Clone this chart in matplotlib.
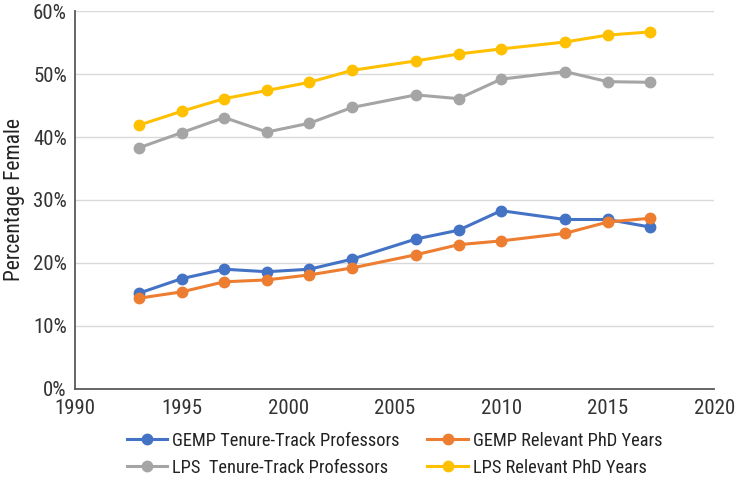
import matplotlib
matplotlib.use('Agg')
import matplotlib.pyplot as plt
from matplotlib.ticker import FuncFormatter
from matplotlib import font_manager

installed = {f.name for f in font_manager.fontManager.ttflist}
fams = [f for f in ['Roboto Condensed', 'Liberation Sans Narrow', 'Liberation Sans'] if f in installed]
plt.rcParams['font.family'] = fams + ['DejaVu Sans']

# ── data ──
years = [1993, 1995, 1997, 1999, 2001, 2003, 2006, 2008, 2010, 2013, 2015, 2017]

gemp_tt  = [15.2, 17.5, 19.0, 18.6, 19.0, 20.6, 23.8, 25.2, 28.3, 26.9, 26.9, 25.7]
gemp_phd = [14.4, 15.4, 17.0, 17.3, 18.1, 19.2, 21.3, 22.9, 23.5, 24.7, 26.5, 27.1]
lps_tt   = [38.3, 40.7, 43.1, 40.8, 42.2, 44.7, 46.7, 46.1, 49.2, 50.4, 48.8, 48.7]
lps_phd  = [41.9, 44.1, 46.1, 47.4, 48.7, 50.6, 52.1, 53.2, 54.0, 55.1, 56.2, 56.7]

labels = ['GEMP Tenure-Track Professors', 'GEMP Relevant PhD Years',
          'LPS  Tenure-Track Professors', 'LPS Relevant PhD Years']
colors = ['#4472C4', '#ED7D31', '#A5A5A5', '#FFC000']

fig = plt.figure(figsize=(7.37, 4.86), dpi=100)
ax = fig.add_axes([0.102, 0.2, 0.867, 0.777])

lines = []
for vals, lab, col in zip([gemp_tt, gemp_phd, lps_tt, lps_phd], labels, colors):
    ln, = ax.plot(years, vals, color=col, lw=2.2, marker='o', ms=7.5, label=lab)
    lines.append(ln)

ax.set_xlim(1990, 2020)
ax.set_ylim(0, 60)
ax.set_xticks(range(1990, 2021, 5))
ax.set_yticks(range(0, 61, 10))
ax.yaxis.set_major_formatter(FuncFormatter(lambda v, p: f'{v:.0f}%'))
ax.tick_params(length=0, labelsize=15, colors='#333333')
ax.tick_params(axis='x', pad=7)
ax.tick_params(axis='y', pad=6)
ax.grid(True, axis='y', color='#d9d9d9', lw=1)
ax.set_axisbelow(True)
for s in ['top', 'right']:
    ax.spines[s].set_visible(False)
for s in ['left', 'bottom']:
    ax.spines[s].set_color('#595959')
    ax.spines[s].set_linewidth(1.3)
ax.set_ylabel('Percentage Female', fontsize=15.5, color='#222222', labelpad=6)

# legend filled column-wise, so reorder to get GEMP on row 1, LPS on row 2
order = [0, 2, 1, 3]
ax.legend([lines[i] for i in order], [labels[i] for i in order],
          loc='upper center', bbox_to_anchor=(0.5, -0.07), ncol=2,
          frameon=False, fontsize=13.2, handlelength=2.2, handletextpad=0.3,
          columnspacing=1.5, labelspacing=0.5, labelcolor='#222222')

plt.savefig('out.png', dpi=100)
